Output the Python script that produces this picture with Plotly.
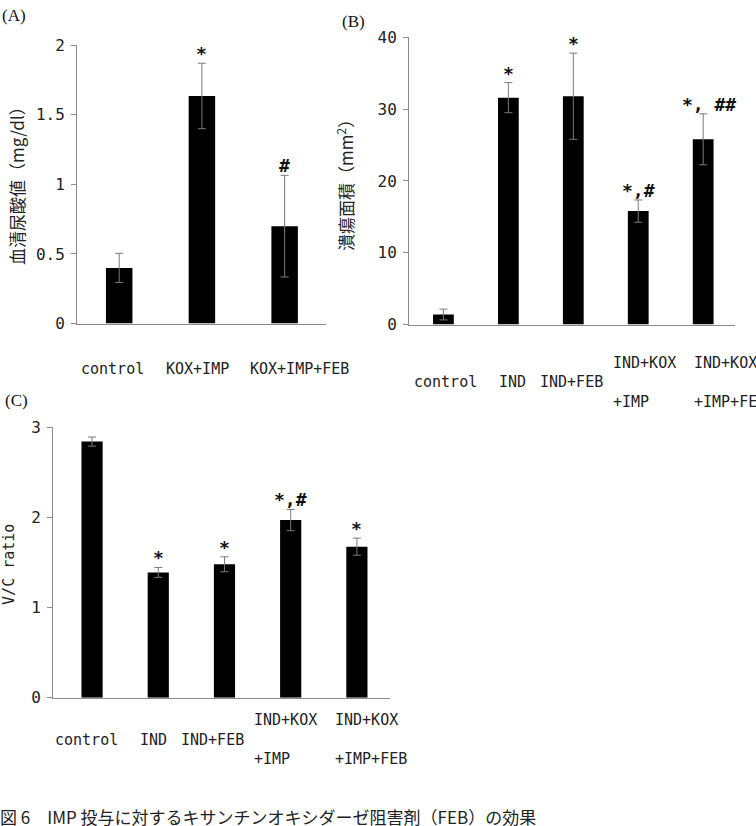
import plotly.graph_objects as go

W, H = 756, 826

# ---------------- data ----------------
a_cats = ["control", "KOX+IMP", "KOX+IMP+FEB"]
a_labels = ["control", "KOX+IMP", "KOX+IMP+FEB"]
a_vals = [0.40, 1.635, 0.70]
a_errs = [0.105, 0.235, 0.365]
a_marks = ["", "*", "#"]
a_ticks = [0, 0.5, 1, 1.5, 2]

b_cats = ["control", "IND", "IND+FEB", "IND+KOX+IMP", "IND+KOX+IMP+FEB"]
b_labels = ["control", "IND", "IND+FEB", "IND+KOX<br><br>+IMP", "IND+KOX<br><br>+IMP+FEB"]
b_vals = [1.4, 31.6, 31.8, 15.8, 25.8]
b_errs = [0.75, 2.1, 6.0, 1.55, 3.55]
b_marks = ["", "*", "*", "*,#", "*, ##"]
b_ticks = [0, 10, 20, 30, 40]

c_cats = ["control", "IND", "IND+FEB", "IND+KOX+IMP", "IND+KOX+IMP+FEB"]
c_labels = ["control", "IND", "IND+FEB", "IND+KOX<br><br>+IMP", "IND+KOX<br><br>+IMP+FEB"]
c_vals = [2.84, 1.39, 1.48, 1.97, 1.675]
c_errs = [0.05, 0.055, 0.083, 0.118, 0.095]
c_marks = ["", "*", "*", "*,#", "*"]
c_ticks = [0, 1, 2, 3]

a_title = "血清尿酸値（mg/dl）"
b_title = "潰瘍面積（mm<sup>2</sup>）"
c_title = "V/C ratio"
caption = "図 6　IMP 投与に対するキサンチンオキシダーゼ阻害剤（FEB）の効果"


def px(x):
    return x / W


def py(y):
    return 1 - y / H


MONO = "DejaVu Sans Mono"
CJK = "Noto Sans CJK JP"
SERIF = "Liberation Serif"
AXC = "#8a8a8a"

panels = [
    dict(key="", cats=a_cats, labels=a_labels, vals=a_vals, errs=a_errs, marks=a_marks,
         ticks=a_ticks, xdom=(77, 326), ydom=(322, 37), xrange=[-0.51, 2.5],
         label_y=368, label_shift=[-40, -38, -37], title=a_title, title_xy=(17, 177),
         title_font=CJK, title_size=17, tag="(A)", tag_xy=(14, 7), mark_shift=[0, 0, 0]),
    dict(key="2", cats=b_cats, labels=b_labels, vals=b_vals, errs=b_errs, marks=b_marks,
         ticks=b_ticks, xdom=(409, 735), ydom=(323, 29), xrange=[-0.53, 4.49],
         label_y=382, label_shift=[-31, -11, -35, -27, -11], title=b_title, title_xy=(345, 176),
         title_font=CJK, title_size=17, tag="(B)", tag_xy=(353, 13),
         mark_shift=[0, 0, 0, 0, 6]),
    dict(key="3", cats=c_cats, labels=c_labels, vals=c_vals, errs=c_errs, marks=c_marks,
         ticks=c_ticks, xdom=(53, 390), ydom=(705, 428), xrange=[-0.59, 4.5],
         label_y=748, label_shift=[-39, -20, -45, -39, -24], title=c_title, title_xy=(9, 569),
         title_font=MONO, title_size=15, tag="(C)", tag_xy=(16, 401),
         mark_shift=[0, 0, 0, 0, 0]),
]

fig = go.Figure()
annotations = []
layout_axes = {}

for p in panels:
    k = p["key"]
    xa = "x" + k
    ya = "y" + k
    fig.add_trace(go.Bar(
        x=p["cats"], y=p["vals"], xaxis=xa, yaxis=ya, width=0.32,
        marker=dict(color="black", line=dict(width=0)),
        error_y=dict(type="data", array=p["errs"], visible=True, color="#7a7a7a",
                     thickness=1, width=4),
        showlegend=False, hoverinfo="x+y",
    ))
    ymax = p["ticks"][-1]
    layout_axes["xaxis" + k] = dict(
        domain=[px(p["xdom"][0]), px(p["xdom"][1])], anchor=ya, type="category",
        categoryorder="array", categoryarray=p["cats"], range=p["xrange"],
        showline=True, linecolor=AXC, linewidth=1, ticks="", showticklabels=False,
        showgrid=False, zeroline=False, fixedrange=True,
    )
    layout_axes["yaxis" + k] = dict(
        domain=[py(p["ydom"][0]), py(p["ydom"][1])], anchor=xa, range=[0, ymax],
        tickvals=p["ticks"], ticks="outside", ticklen=5, tickcolor=AXC, tickwidth=1,
        showline=True, linecolor=AXC, linewidth=1, showgrid=False, zeroline=False,
        tickfont=dict(family=MONO, size=16, color="#222"), ticklabelstandoff=3,
        fixedrange=True,
    )
    # category labels
    for cat, lab, sh in zip(p["cats"], p["labels"], p["label_shift"]):
        annotations.append(dict(
            x=cat, y=py(p["label_y"]), xref=xa, yref="paper", text=lab,
            showarrow=False, xanchor="left", yanchor="middle", xshift=sh, align="left",
            font=dict(family=MONO, size=15, color="#222"),
        ))
    # significance marks
    for cat, v, e, m, ms in zip(p["cats"], p["vals"], p["errs"], p["marks"], p["mark_shift"]):
        if m:
            annotations.append(dict(
                x=cat, y=v + e, xref=xa, yref=ya, text=m, showarrow=False,
                xanchor="center", yanchor="bottom", yshift=-3, xshift=ms,
                font=dict(family=MONO, size=18, color="#111", weight="bold"),
            ))
    # axis title
    annotations.append(dict(
        x=px(p["title_xy"][0]), y=py(p["title_xy"][1]), xref="paper", yref="paper",
        text=p["title"], textangle=-90, showarrow=False, xanchor="center", yanchor="middle",
        font=dict(family=p["title_font"], size=p["title_size"], color="#222"),
    ))
    # panel tag
    annotations.append(dict(
        x=px(p["tag_xy"][0]), y=py(p["tag_xy"][1]), xref="paper", yref="paper",
        text=p["tag"], showarrow=False, xanchor="center", yanchor="middle",
        font=dict(family=SERIF, size=17, color="#111"),
    ))

annotations.append(dict(
    x=px(-2), y=py(818), xref="paper", yref="paper", text=caption, showarrow=False,
    xanchor="left", yanchor="middle", yshift=-8,
    font=dict(family=CJK, size=17, color="#222"),
))

fig.update_layout(
    width=W, height=H, margin=dict(l=0, r=0, t=0, b=0),
    paper_bgcolor="white", plot_bgcolor="white",
    annotations=annotations, bargap=0.68,
    **layout_axes,
)

fig.write_html("out.html", config=dict(displayModeBar=False))
